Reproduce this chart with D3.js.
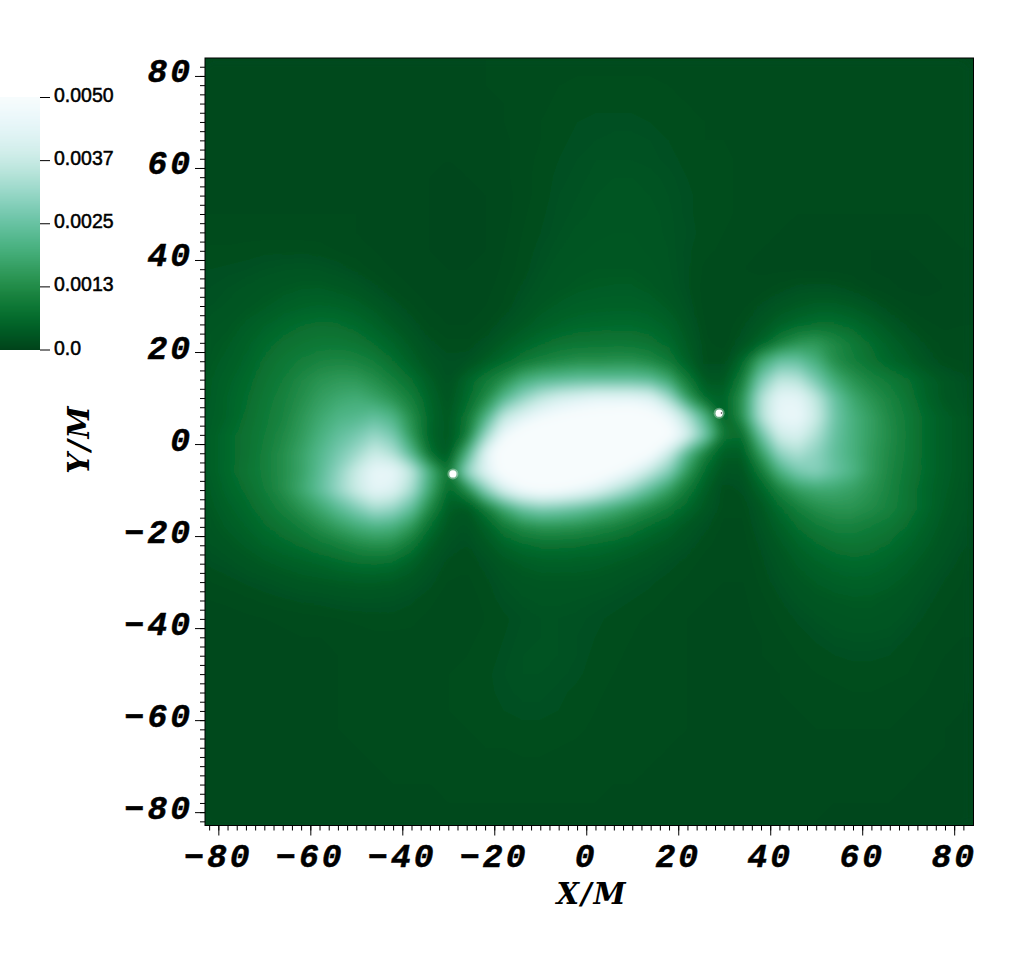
<!DOCTYPE html>
<html>
<head>
<meta charset="utf-8">
<title>X/M Y/M field</title>
<script src="https://cdn.jsdelivr.net/npm/d3@7"></script>
<style>
  html, body { margin: 0; padding: 0; background: #fff; }
  svg { display: block; }
  .big { font-family: "Liberation Mono", monospace; font-weight: bold; font-style: italic; font-size: 33px; letter-spacing: 3px; fill: #000; stroke: #000; stroke-width: 0.5px; }
  .title { font-family: "DejaVu Serif", serif; font-weight: bold; font-style: italic; font-size: 29px; letter-spacing: 2px; fill: #000; }
  .cb { font-family: "Liberation Sans", sans-serif; font-size: 19.5px; fill: #000; stroke: #000; stroke-width: 0.5px; }
</style>
</head>
<body>
<div id="chart"></div>
<script>
// tick labels
const xTicks = [-80, -60, -40, -20, 0, 20, 40, 60, 80];
const yTicks = [-80, -60, -40, -20, 0, 20, 40, 60, 80];
const barTicks = [0, 0.00125, 0.0025, 0.00375, 0.005];
const barLabels = ["0.0", "0.0013", "0.0025", "0.0037", "0.0050"];

// the two small white spots, and the speck inside the right one
const spots = [[-29, -6.5], [28.9, 6.7]];
const speck = [29.4, 6.75];

// field, units of 1e-4, cells 4 M wide
// columns x = -82 ... 82, rows y = 82 ... -82
const fieldRows = [
  [.8,.8,.8,.8,.8,.8,.8,.8,.8,.8,.8,.8,.8,.8, .9,1,1,1,1.1,1.2,1.3,1.3,1.3,1.3,1.3,1.3,1.3,1.2, 1.2,1.2,1.2,1.2,1.2,1.2,1.2,1.2,1.2,1.2,1.2,1.2,1.2,1.2],
  [.8,.8,.8,.8,.8,.8,.8,.8,.8,.8,.8,.8,.8,.8, .9,1,1.1,1.2,1.3,1.4,1.5,1.5,1.5,1.5,1.5,1.4,1.3,1.3, 1.2,1.2,1.2,1.2,1.2,1.2,1.2,1.2,1.2,1.2,1.2,1.2,1.2,1.2],
  [.8,.8,.8,.8,.8,.8,.8,.8,.8,.8,.8,.8,.8,.8, .9,.9,1,1.2,1.3,1.5,1.6,1.7,1.7,1.7,1.6,1.5,1.4,1.3, 1.3,1.2,1.2,1.2,1.2,1.2,1.2,1.2,1.2,1.2,1.2,1.2,1.2,1.2],
  [.8,.8,.8,.8,.8,.8,.8,.8,.8,.8,.8,.8,.8,.7, .8,.8,1,1.2,1.4,1.6,1.8,1.9,1.9,1.9,1.8,1.6,1.5,1.4, 1.4,1.3,1.2,1.2,1.2,1.2,1.2,1.2,1.2,1.2,1.2,1.2,1.2,1.2],
  [.8,.8,.8,.8,.8,.8,.8,.8,.8,.8,.8,.8,.7,.7, .8,.8,.9,1.2,1.4,1.7,1.9,2,2.1,2.1,2,1.8,1.6,1.4, 1.4,1.3,1.3,1.2,1.2,1.2,1.2,1.2,1.2,1.2,1.2,1.2,1.2,1.2],
  [.8,.8,.8,.8,.8,.8,.8,.8,.8,.8,.8,.8,.7,.6, .7,.7,.9,1.2,1.5,1.8,2,2.2,2.2,2.2,2.1,1.9,1.7,1.5, 1.5,1.3,1.3,1.3,1.2,1.2,1.2,1.2,1.2,1.2,1.2,1.2,1.2,1.2],
  [.9,.9,.9,.9,.9,.9,.9,.9,.9,.8,.8,.7,.6,.6, .6,.7,.9,1.2,1.6,1.9,2.1,2.3,2.4,2.4,2.3,2.1,1.8,1.6, 1.5,1.3,1.2,1.2,1.1,1.1,1.1,1.1,1.1,1.1,1.1,1.1,1.1,1.2],
  [.9,.9,.9,.9,.9,.9,.9,.9,.9,.8,.8,.7,.6,.5, .5,.6,.8,1.2,1.6,2,2.2,2.4,2.5,2.5,2.4,2.2,1.9,1.6, 1.5,1.3,1.2,1.1,1.1,1,1,1,1,1,1,1,1.1,1.2],
  [1,1,1,1,1,1,1,1,1,.9,.8,.7,.6,.5, .5,.6,.8,1.3,1.7,2.1,2.3,2.5,2.6,2.6,2.5,2.3,1.9,1.6, 1.5,1.3,1.2,1.1,1,1,1,1,1,1,1,1,1.1,1.2],
  [1.2,1.2,1.2,1.2,1.2,1.2,1.2,1.1,1,.9,.8,.7,.6,.5, .5,.6,.9,1.4,1.8,2.2,2.5,2.7,2.8,2.8,2.6,2.3,2,1.6, 1.4,1.2,1.1,1,.9,.9,.8,.8,.8,.8,.8,.9,1,1.1],
  [1.5,1.5,1.6,1.7,1.7,1.7,1.6,1.4,1.2,1,.9,.7,.6,.5, .5,.6,1,1.5,2,2.4,2.7,2.9,3,3,2.7,2.4,1.9,1.5, 1.3,1.1,1,.9,.8,.8,.7,.7,.6,.6,.6,.7,.8,1],
  [1.8,1.9,2,2.2,2.4,2.5,2.4,2.1,1.7,1.3,1,.8,.7,.6, .6,.7,1.1,1.6,2.2,2.7,3,3.2,3.2,3.2,3,2.5,1.9,1.3, 1.1,1,.9,.9,.9,.8,.8,.7,.6,.5,.5,.6,.7,.9],
  [2,2.2,2.5,2.9,3.2,3.5,3.6,3.2,2.7,2,1.4,1,.8,.7, .7,.8,1.3,1.9,2.5,3,3.4,3.6,3.7,3.7,3.3,2.7,1.9,1.2, 1,1,1.2,1.6,2,2.2,2,1.6,1,.7,.5,.5,.6,.8],
  [2.2,2.5,3,3.5,4.2,4.8,5,4.8,4.2,3.2,2.2,1.5,1,.8, .8,1,1.5,2.3,3.2,3.8,4.2,4.4,4.5,4.5,4.2,3.4,2.2,1.2, 1,1.3,2,2.8,3.5,4,4,3.5,2.5,1.5,1,.7,.7,.9],
  [2.6,3,3.8,4.8,5.8,6.6,7,6.8,6,4.8,3.3,2.2,1.4,1, 1,1.4,2.2,3.2,4.2,5,5.6,5.8,6,6,5.6,4.6,2.8,1.3, 1.1,1.8,3,4.6,6,7,7,6,4.5,3,1.8,1.1,.9,1],
  [3,3.5,4.6,6,7.2,8,8.5,8.5,8,6.6,5,3.2,2,1.5, 1.5,2.2,3.6,5,6.5,7.5,8,8.2,8.3,8.2,7.5,6,3.5,1.5, 1.2,2.5,5,10,14,15,12,9,6.5,4.5,3,1.8,1.2,1.2],
  [3.2,4,5.2,7,8.5,9.8,11,11.5,11,9.5,7,4.5,2.5,2, 2.2,3.8,6,8.5,10.5,12,13,13,13.5,13.5,12,9,4.5,1.6, 1.6,6,18,25,25,20,13,10,7.5,5.5,4,2.5,1.5,1.4],
  [3.5,4.6,6,7.8,9.5,12,14,15,15,13,10,7,4,2, 5,9,13,19,22,23,24,24,24,24,23,18,9,3, 3,10,27,36,35,27,19,14,11,9,7,4.5,3,2],
  [3.6,5,6.5,8.5,10.5,13,16,18,19,17,14,10,5,2.5, 6,12,22,30,36,40,42,44,44,44,42,32,16,6, 5,14,34,44,44,36,25,18,14,11,8,5,3,2.2],
  [3.8,5,7,9,11,14.5,18,21,22,24,21,13,5.5,3, 8,20,36,42,47,50,52,53,54,55,52,46,34,20, 4,14,34,45,46,38,26,20,16,12,9,6,4,3],
  [4,6,7.5,9.5,12,15.5,20,24,27,31,27,15,5,3, 9,30,46,54,58,60,60,60,60,60,58,52,40,26, 8,7,25,39,41,34,25,20,16,12.5,9,6,4,3],
  [4,6,7.5,10,13,17,22,27,32,38,34,22,7,3, 20,42,56,60,60,60,60,60,58,56,50,38,22,10, 4,4,16,30,34,30,24,20,15.5,12,9,6,4,3],
  [4,6,8,10,13,17,23,30,38,45,45,36,20,8, 30,42,52,58,60,60,58,55,50,44,36,28,15,6, 2.5,2.5,9,20,27,29,25,21,15.5,11.5,8.5,6,4,3],
  [3.6,5.5,7,9.5,13,18,24,31,38,44,42,33,18,6, 12,28,40,47,50,49,46,42,36,30,23,16,9,4, 1.5,2,5,11,16,18,18,16.5,14,11,8,5.5,3.8,2.8],
  [3.2,4.6,6,8,10.5,14,18,23,28,33,31,24,12,4, 3,9,18,25,28,27,25,22,19,15.5,12,9,5.5,3, 1.5,1.5,3,6.5,10,13,14,14,12.5,10.5,8,5.5,3.5,2.5],
  [2.8,3.8,5,6.5,8,10,13,16,19,21,20,15,7,3, 2.2,4.5,9,12.5,14,14,13.5,12,10.5,8.5,6.5,4.8,3,2, 1.3,1.3,2.5,4.5,7,9,10.5,10.5,9.5,8.5,6.5,4.6,3,2.2],
  [2.4,3,3.8,5,6,7,8.5,10,12,13,12.5,8.5,4,2.2, 1.8,3,5,6.5,7.2,7.2,7,6.5,5.8,4.8,3.8,3,2.2,1.5, 1.2,1.2,2,3.3,5,6.5,7.5,8,7.5,6.5,5.2,3.8,2.6,1.9],
  [1.9,2.2,2.8,3.4,4,4.6,5.2,6,6.8,7,6.5,4.5,2.6,1.7, 1.5,2,3,3.8,4.2,4.3,4.2,4,3.6,3,2.6,2,1.6,1.2, 1,1.1,1.7,2.6,3.8,4.8,5.6,6,5.8,5,4,3,2.2,1.6],
  [1.4,1.6,1.9,2.2,2.6,3,3.2,3.5,3.7,3.7,3.5,2.8,2,1.4, 1.3,1.7,2.3,2.8,3,3,3,2.9,2.6,2.2,1.9,1.6,1.3,1, 1,1,1.5,2.2,3,3.7,4.2,4.5,4.4,3.9,3.2,2.4,1.8,1.4],
  [1,1.1,1.3,1.5,1.7,1.9,2,2.2,2.3,2.3,2.2,1.9,1.5,1.2, 1.2,1.5,2,2.3,2.5,2.5,2.4,2.2,2,1.8,1.6,1.3,1.1,1, .9,.9,1.3,1.8,2.4,2.9,3.2,3.4,3.4,3,2.6,2,1.5,1.2],
  [.8,.8,.9,1,1.1,1.2,1.3,1.4,1.5,1.6,1.6,1.5,1.3,1.2, 1.2,1.4,1.7,2,2.2,2.2,2.1,1.9,1.7,1.5,1.3,1.2,1,.9, .9,.9,1.1,1.5,1.9,2.3,2.6,2.8,2.8,2.6,2.2,1.7,1.3,1.1],
  [.7,.7,.8,.8,.9,1,1,1.1,1.2,1.3,1.3,1.3,1.3,1.3, 1.3,1.5,1.8,2.1,2.2,2.2,2,1.8,1.6,1.4,1.2,1.1,1,.9, .9,.9,1,1.3,1.6,1.9,2.2,2.3,2.3,2.2,1.8,1.4,1.2,1],
  [.7,.7,.7,.8,.8,.9,.9,1,1.1,1.2,1.2,1.3,1.3,1.4, 1.4,1.6,1.9,2.2,2.2,2.2,2,1.7,1.5,1.3,1.2,1.1,1,.9, .9,.9,1,1.1,1.4,1.6,1.8,1.9,1.9,1.8,1.6,1.2,1,.9],
  [.7,.7,.7,.7,.8,.8,.9,1,1.1,1.2,1.2,1.3,1.4,1.4, 1.5,1.7,2,2.2,2.2,2.1,1.9,1.6,1.4,1.3,1.2,1.1,1,.9, .9,.9,.9,1,1.2,1.4,1.5,1.6,1.6,1.5,1.4,1.1,.9,.8],
  [.7,.7,.7,.7,.7,.8,.9,1,1.1,1.2,1.2,1.3,1.4,1.4, 1.5,1.7,1.9,2.1,2.1,1.9,1.7,1.5,1.3,1.2,1.1,1,1,.9, .9,.9,.9,1,1.1,1.2,1.3,1.4,1.4,1.3,1.2,1,.8,.7],
  [.7,.7,.7,.7,.7,.8,.9,1,1.1,1.2,1.2,1.3,1.3,1.4, 1.5,1.6,1.8,1.9,1.9,1.8,1.6,1.4,1.2,1.1,1.1,1,1,.9, .9,.9,.9,.9,1,1.1,1.2,1.2,1.2,1.1,1,.9,.7,.6],
  [.7,.7,.7,.7,.7,.8,.9,1,1.1,1.2,1.2,1.2,1.3,1.3, 1.4,1.5,1.6,1.7,1.7,1.6,1.5,1.3,1.2,1.1,1,1,1,.9, .8,.8,.8,.9,.9,1,1,1,1,1,.9,.8,.6,.6],
  [.7,.7,.7,.7,.7,.8,.8,.9,1,1.1,1.1,1.2,1.2,1.3, 1.3,1.4,1.4,1.5,1.5,1.4,1.3,1.2,1.1,1.1,1,1,.9,.8, .8,.8,.8,.8,.8,.9,.9,.9,.9,.9,.8,.7,.6,.5],
  [.7,.7,.7,.7,.7,.7,.8,.9,.9,1,1,1.1,1.1,1.2, 1.2,1.2,1.3,1.3,1.3,1.3,1.2,1.2,1.1,1,1,.9,.8,.8, .8,.7,.7,.7,.8,.8,.8,.8,.8,.8,.7,.6,.5,.5],
  [.7,.7,.7,.7,.7,.7,.7,.8,.8,.9,1,1,1,1.1, 1.1,1.1,1.2,1.2,1.2,1.2,1.1,1.1,1,1,.9,.9,.8,.8, .7,.7,.7,.7,.7,.7,.7,.7,.7,.7,.6,.5,.5,.4],
  [.7,.7,.7,.7,.7,.7,.7,.7,.8,.8,.9,.9,.9,1, 1,1,1,1,1,1,1,1,.9,.9,.8,.8,.8,.7, .7,.7,.7,.7,.7,.7,.6,.6,.6,.6,.5,.5,.4,.4],
  [.7,.7,.7,.7,.7,.7,.7,.7,.7,.7,.8,.8,.8,.8, .9,.9,.9,.9,.9,.9,.9,.8,.8,.8,.8,.7,.7,.7, .7,.6,.6,.6,.6,.6,.6,.6,.5,.5,.5,.4,.4,.4]
];
fieldRows.forEach((r, i) => { if (r.length !== 42) throw new Error("row " + i + " has " + r.length); });

const width = 1024, height = 972;
const left = 205, right = 973.5, top_ = 58, bottom = 825.5;

const x = d3.scaleLinear().domain([-82.9, 84.2]).range([left, right]);
const y = d3.scaleLinear().domain([-82.9, 83.9]).range([bottom, top_]);
const color = d3.scaleSequential(t => d3.interpolateBuGn(1 - t)).domain([0, 0.005]).clamp(true);

const svg = d3.select("#chart").append("svg")
    .attr("width", width)
    .attr("height", height);

const defs = svg.append("defs");
defs.append("clipPath").attr("id", "plotClip")
  .append("rect")
    .attr("x", left).attr("y", top_)
    .attr("width", right - left).attr("height", bottom - top_);
defs.append("filter").attr("id", "soft")
    .attr("filterUnits", "userSpaceOnUse")
    .attr("x", 0).attr("y", 0).attr("width", width).attr("height", height)
  .append("feGaussianBlur").attr("stdDeviation", 5);

// filled contours of the field
const nCols = fieldRows[0].length, nRows = fieldRows.length;
const cellEdgesX = d3.scaleLinear().domain([0, nCols]).range([x(-84), x(84)]);
const cellEdgesY = d3.scaleLinear().domain([0, nRows]).range([y(84), y(-84)]);
const project = d3.geoTransform({
  point(a, b) { this.stream.point(cellEdgesX(a), cellEdgesY(b)); }
});
const path = d3.geoPath(project);
const contours = d3.contours()
    .size([nCols, nRows])
    .thresholds(d3.range(0.2, 50.2, 0.2))(fieldRows.flat());

const plot = svg.append("g").attr("clip-path", "url(#plotClip)");
plot.append("rect")
    .attr("x", left).attr("y", top_)
    .attr("width", right - left).attr("height", bottom - top_)
    .attr("fill", color(0.00008));
plot.append("g").attr("filter", "url(#soft)")
  .selectAll("path")
  .data(contours)
  .join("path")
    .attr("d", path)
    .attr("fill", d => color(d.value * 1e-4));

// small spots
svg.selectAll(".glow")
  .data(spots)
  .join("circle")
    .attr("class", "glow")
    .attr("cx", d => x(d[0]))
    .attr("cy", d => y(d[1]))
    .attr("r", 5.5)
    .attr("fill", "#fff")
    .attr("opacity", 0.35);
svg.selectAll(".spot")
  .data(spots)
  .join("circle")
    .attr("class", "spot")
    .attr("cx", d => x(d[0]))
    .attr("cy", d => y(d[1]))
    .attr("r", 3.6)
    .attr("fill", "#fff");
svg.append("circle")
    .attr("cx", x(speck[0]))
    .attr("cy", y(speck[1]))
    .attr("r", 0.7)
    .attr("fill", "#222");

// frame
svg.append("rect")
    .attr("x", left).attr("y", top_)
    .attr("width", right - left).attr("height", bottom - top_)
    .attr("fill", "none").attr("stroke", "#000");

// minor and major ticks
const minor = d3.range(-82, 84, 2);
const xAxisG = svg.append("g").attr("transform", `translate(0,${bottom})`);
xAxisG.append("g").call(d3.axisBottom(x).tickValues(minor).tickSize(5).tickSizeOuter(0).tickFormat(""));
xAxisG.append("g").call(d3.axisBottom(x).tickValues(xTicks).tickSize(10).tickSizeOuter(0).tickFormat(""));
const yAxisG = svg.append("g").attr("transform", `translate(${left},0)`);
yAxisG.append("g").call(d3.axisLeft(y).tickValues(minor).tickSize(5).tickSizeOuter(0).tickFormat(""));
yAxisG.append("g").call(d3.axisLeft(y).tickValues(yTicks).tickSize(10).tickSizeOuter(0).tickFormat(""));
svg.selectAll(".domain").remove();

// tick labels
const fmt = d => (d < 0 ? "\u2212" : "") + Math.abs(d);
svg.selectAll(".xlab")
  .data(xTicks)
  .join("text")
    .attr("class", "big")
    .attr("x", d => x(d))
    .attr("y", 867)
    .attr("text-anchor", "middle")
    .text(fmt);
svg.selectAll(".ylab")
  .data(yTicks)
  .join("text")
    .attr("class", "big")
    .attr("x", 193)
    .attr("y", d => y(d) + 6.5)
    .attr("text-anchor", "end")
    .text(fmt);

// axis titles
svg.append("text").attr("class", "title")
    .attr("x", 592).attr("y", 904)
    .attr("text-anchor", "middle")
    .text("X/M");
svg.append("text").attr("class", "title")
    .attr("transform", "translate(89,439) rotate(-90)")
    .attr("text-anchor", "middle")
    .text("Y/M");

// colour bar
const barScale = d3.scaleLinear().domain([0, 0.005]).range([349.5, 97]);
svg.append("g").selectAll("rect")
  .data(d3.range(0, 0.005, 0.005 / 253))
  .join("rect")
    .attr("x", 0)
    .attr("y", d => barScale(d) - 1)
    .attr("width", 40)
    .attr("height", 1.5)
    .attr("fill", d => color(d));
const barAxis = svg.append("g").attr("transform", "translate(40,0)")
    .call(d3.axisRight(barScale).tickValues(barTicks).tickSize(10).tickSizeOuter(0).tickFormat(""));
barAxis.select(".domain").remove();
svg.selectAll(".barlab")
  .data(barTicks)
  .join("text")
    .attr("class", "cb")
    .attr("x", 54)
    .attr("y", d => barScale(d) + 5)
    .text((d, i) => barLabels[i]);
</script>
</body>
</html>
